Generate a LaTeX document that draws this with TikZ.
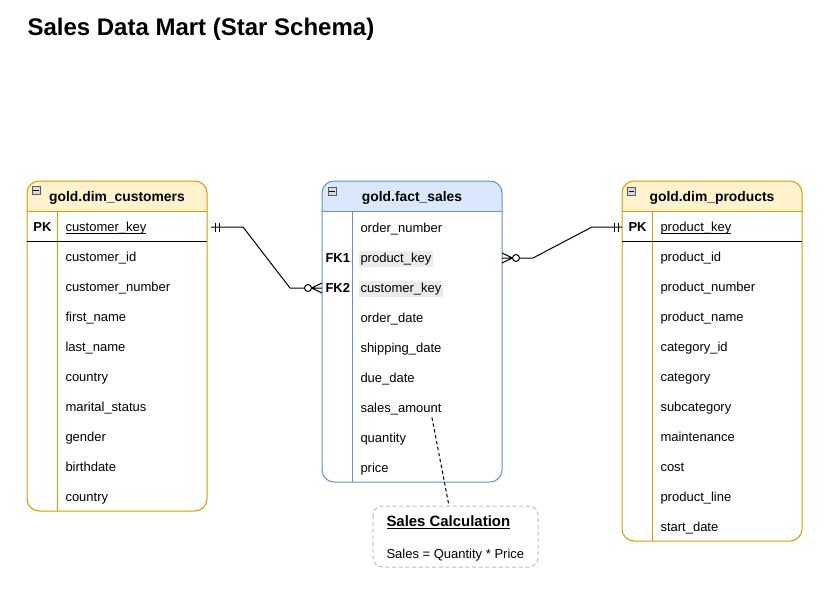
\documentclass[tikz,border=0pt]{standalone}
\usepackage{fontspec}
\setmainfont{Liberation Sans}
\usepackage{xcolor}
\usepackage{tikz}
\usetikzlibrary{calc}

\definecolor{dimfill}{HTML}{FFF2CC}
\definecolor{dimdraw}{HTML}{D79B00}
\definecolor{factfill}{HTML}{DAE8FC}
\definecolor{factdraw}{HTML}{6C8EBF}
\definecolor{keyshade}{HTML}{EBEBEB}
\definecolor{notedraw}{HTML}{BDBDBD}

% underline close to the baseline
\newcommand{\keyline}[1]{\setbox0\hbox{#1}\rlap{\rule[-1.6pt]{\wd0}{0.6pt}}#1}

\tikzset{
  zeromany/.pic={
    \draw (-10.5,0) -- (0,5) (-10.5,0) -- (0,0) (-10.5,0) -- (0,-5);
    \draw[fill=white] (-14,0) circle[radius=3.5];
  },
  onemand/.pic={
    \draw (-4,-4.5) -- (-4,4.5) (-8,-4.5) -- (-8,4.5);
  }
}

\begin{document}
\begin{tikzpicture}[x=0.75pt, y=-0.75pt, line width=0.75pt,
  field/.style={anchor=west, inner sep=0pt, text height=8.5pt, text depth=3.5pt, yshift=-1.5pt, font=\fontsize{9.75}{12}\selectfont},
  plain/.style={},
  shaded/.style={fill=keyshade, inner xsep=1pt, xshift=-1pt},
  keytag/.style={field, font=\fontsize{9.75}{12}\selectfont\bfseries},
  tablehead/.style={yshift=-1.2pt, font=\fontsize{10.4}{12}\selectfont\bfseries},
  toggle/.style={draw=gray!70!black, fill=gray!30, line width=0.5pt, minimum size=6pt, inner sep=0pt},
  rel/.style={line width=0.75pt},
  notebox/.style={draw=notedraw, dashed, dash pattern=on 3pt off 2pt, rounded corners=7pt},
  notelink/.style={dash pattern=on 2.5pt off 2pt}
]
\useasboundingbox (0,0) rectangle (834,596);
% title
\node[anchor=base west, inner sep=0pt, font=\fontsize{18}{21}\selectfont\bfseries] (title) at (27,35) {Sales Data Mart (Star Schema)};

% dim_customers
\begin{scope}
  \clip[rounded corners=9pt] (27,181) rectangle (207,511);
  \fill[dimfill] (27,181) rectangle (207,211);
\end{scope}
\draw[dimdraw, rounded corners=9pt] (27,181) rectangle (207,511);
\draw[dimdraw] (27,211) -- (207,211) (57,211) -- (57,511);
\draw (27,241) -- (207,241);
\node[toggle] (cust-toggle) at (36,190.5) {\rule{4pt}{0.6pt}};
\node[tablehead] (cust-head) at (117,196) {gold.dim\_customers};
\node[keytag] (cust-pk) at (33,226) {PK};
\node[field] (cust-0) at (65,226) {\keyline{customer\_key}};
\foreach \f [count=\i] in {customer\_id, customer\_number, first\_name, last\_name, country, marital\_status, gender, birthdate, country}
  \node[field] (cust-\i) at (65,{226+30*\i}) {\f};

% fact_sales
\begin{scope}
  \clip[rounded corners=9pt] (322,181) rectangle (502,482);
  \fill[factfill] (322,181) rectangle (502,211);
\end{scope}
\draw[factdraw, rounded corners=9pt] (322,181) rectangle (502,482);
\draw[factdraw] (322,211) -- (502,211) (352,211) -- (352,482);
\node[toggle] (fact-toggle) at (332,191) {\rule{4pt}{0.6pt}};
\node[tablehead] (fact-head) at (412,196) {gold.fact\_sales};
\foreach \f/\s [count=\i] in {order\_number/plain, product\_key/shaded, customer\_key/shaded, order\_date/plain, shipping\_date/plain, due\_date/plain, sales\_amount/plain, quantity/plain, price/plain}
  \node[field, \s] (fact-\i) at (360,{197+30*\i}) {\f};
\node[keytag] (fact-fk1) at (325,257) {FK1};
\node[keytag] (fact-fk2) at (325,287) {FK2};

% dim_products
\begin{scope}
  \clip[rounded corners=9pt] (622,181) rectangle (802,541);
  \fill[dimfill] (622,181) rectangle (802,211);
\end{scope}
\draw[dimdraw, rounded corners=9pt] (622,181) rectangle (802,541);
\draw[dimdraw] (622,211) -- (802,211) (652,211) -- (652,541);
\draw (622,241) -- (802,241);
\node[toggle] (prod-toggle) at (631.5,191) {\rule{4pt}{0.6pt}};
\node[tablehead] (prod-head) at (712,196) {gold.dim\_products};
\node[keytag] (prod-pk) at (628,226) {PK};
\node[field] (prod-0) at (660,226) {\keyline{product\_key}};
\foreach \f [count=\i] in {product\_id, product\_number, product\_name, category\_id, category, subcategory, maintenance, cost, product\_line, start\_date}
  \node[field] (prod-\i) at (660,{226+30*\i}) {\f};

% relationships
\coordinate (cust-out) at (211,227);
\coordinate (fact-in) at (322,288);
\coordinate (fact-out) at (502,258);
\coordinate (prod-in) at (622,227);
\draw[rel] (cust-out) -- ++(32,0) -- ($(fact-in)+(-32,0)$) -- ($(fact-in)+(-17.5,0)$);
\pic[xscale=-1] at (cust-out) {onemand};
\pic at (fact-in) {zeromany};
\draw[rel] ($(fact-out)+(17.5,0)$) -- ($(fact-out)+(31,0)$) -- ($(prod-in)+(-30,0)$) -- (prod-in);
\pic[xscale=-1] at (fact-out) {zeromany};
\pic at (prod-in) {onemand};

% note
\draw[notebox] (373,506) rectangle (538,567);
\coordinate (calc-top) at (449,506);
\node[field, font=\fontsize{11.2}{13}\selectfont\bfseries] (calc-title) at (386,521) {\keyline{Sales Calculation}};
\node[field] (calc-formula) at (386,553) {Sales = Quantity * Price};
\draw[notelink] ([xshift=-7.5pt]fact-7.south east) -- (calc-top);
\end{tikzpicture}
\end{document}
